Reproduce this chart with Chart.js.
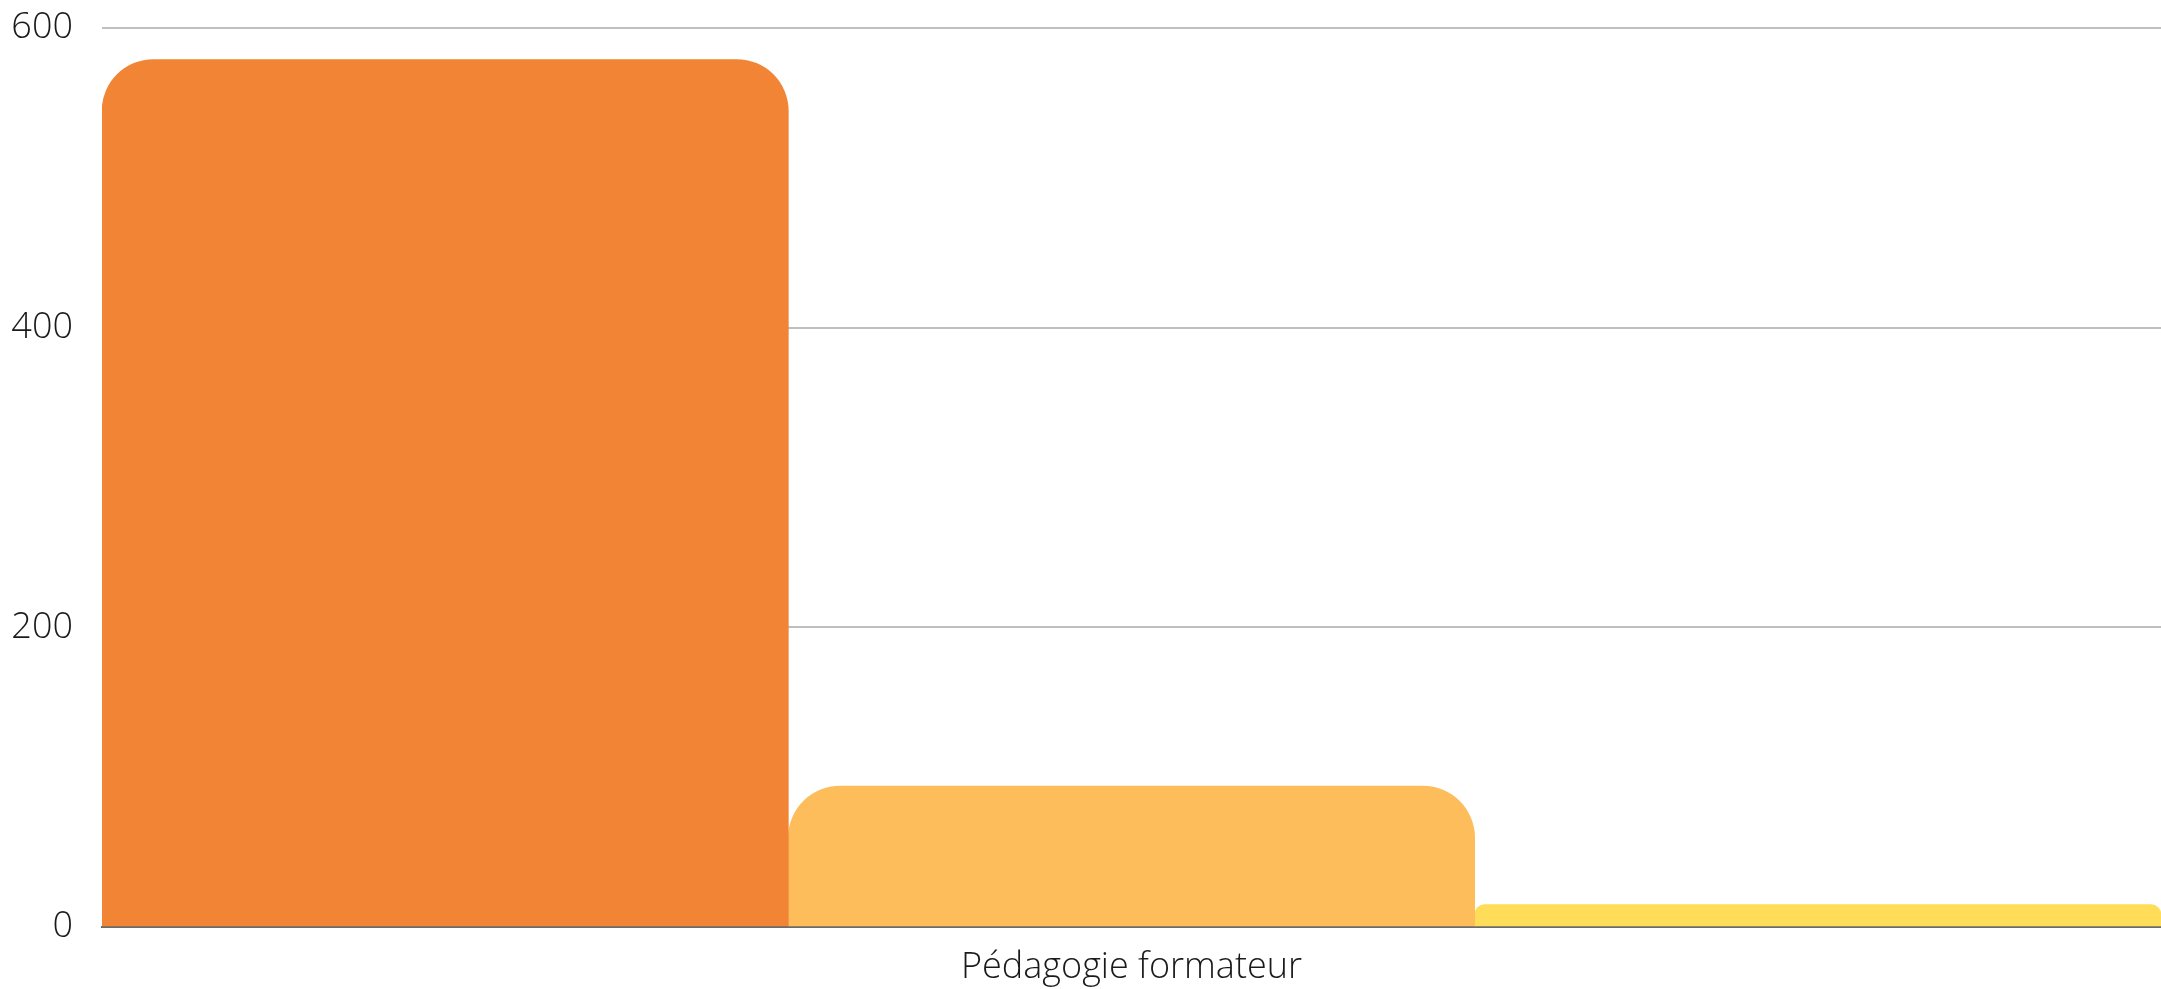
<!DOCTYPE html>
<html>
<head>
<meta charset="utf-8">
<script src="https://cdn.jsdelivr.net/npm/chart.js@4"></script>
<style>
    html, body { margin: 0; padding: 0; background: #fff; }
    #wrap { width: 2161px; height: 989px; }
</style>
</head>
<body>
<div id="wrap"><canvas id="myChart"></canvas></div>
<script>
var categories = ['Pédagogie formateur']
var seriesNames = ['Série 1', 'Série 2', 'Série 3']
var seriesValues = [[579], [94], [15]]
var yTicks = [0, 200, 400, 600]
var barColors = ['#F28435', '#FEBD5B', '#FFDD59']

document.addEventListener('DOMContentLoaded', function () {
    var datasets = seriesNames.map(function (name, i) {
        return {
            label: name,
            data: seriesValues[i],
            backgroundColor: barColors[i],
            borderRadius: 52,
            borderSkipped: 'start',
            barPercentage: 1,
            categoryPercentage: 1
        }
    })
    var ctx = document.getElementById('myChart').getContext('2d');
    var myChart = new Chart(ctx, {
        type: 'bar',
        data: {
            labels: categories,
            datasets: datasets
        },
        options: {
            responsive: true,
            maintainAspectRatio: false,
            animation: false,
            layout: { padding: 0 },
            plugins: {
                legend: { display: false },
                tooltip: { enabled: false }
            },
            scales: {
                x: {
                    grid: { display: false, drawTicks: false },
                    border: { display: true, color: '#6b6b6b', width: 2 },
                    ticks: {
                        padding: 19,
                        color: '#1a1a1a',
                        font: { family: "'Open Sans', sans-serif", size: 36, weight: 300 }
                    },
                    afterFit: function (scale) { scale.height = 62 }
                },
                y: {
                    min: 0,
                    max: yTicks[yTicks.length - 1],
                    afterBuildTicks: function (scale) {
                        scale.ticks = yTicks.map(function (v) { return { value: v } })
                    },
                    grid: { color: '#bfbfbf', lineWidth: 2, drawTicks: false },
                    border: { display: false },
                    ticks: {
                        padding: 29,
                        color: '#1a1a1a',
                        font: { family: "'Open Sans', sans-serif", size: 36, weight: 300 }
                    },
                    afterFit: function (scale) {
                        scale.width = 102
                        scale.paddingTop = 28
                    }
                }
            }
        }
    });
});
</script>
</body>
</html>
